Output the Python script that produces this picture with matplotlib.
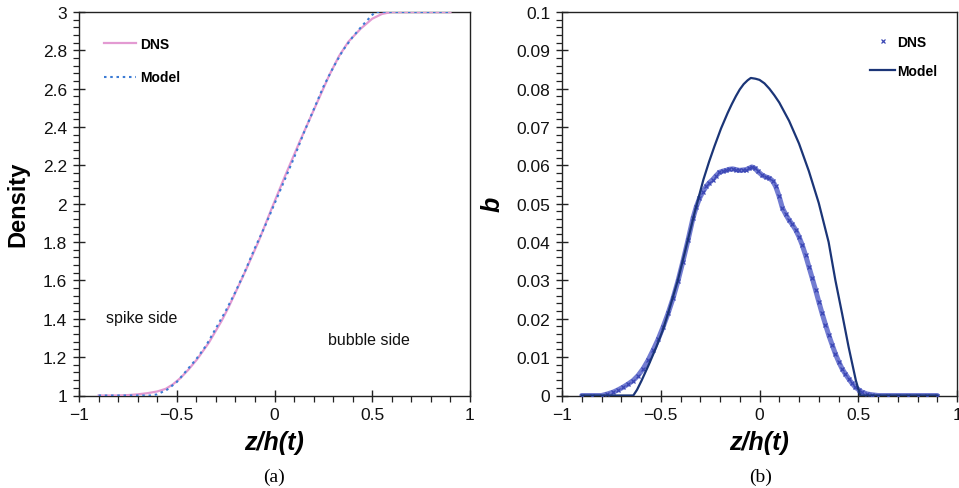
import matplotlib
matplotlib.use("Agg")
import matplotlib.pyplot as plt
from matplotlib.ticker import MultipleLocator

# ---------------- data (a): density ----------------
dens_dns_x = [-0.9, -0.8, -0.75, -0.7, -0.65, -0.6, -0.556, -0.52, -0.48, -0.44, -0.395,
              -0.336, -0.27, -0.235, -0.159, -0.083, -0.015, 0.052, 0.128, 0.204, 0.28,
              0.33, 0.378, 0.441, 0.5, 0.55, 0.6, 0.9]
dens_dns_y = [1.0, 1.0, 1.002, 1.006, 1.012, 1.021, 1.035, 1.058, 1.092, 1.135, 1.19,
              1.275, 1.39, 1.46, 1.626, 1.80, 1.974, 2.14, 2.322, 2.496, 2.67,
              2.77, 2.845, 2.913, 2.965, 2.99, 3.0, 3.0]

dens_mod_x = [-0.9, -0.635, -0.6, -0.55, -0.5, -0.45, -0.4, -0.35, -0.3, -0.25, -0.2, -0.15,
              -0.1, -0.05, 0.0, 0.05, 0.1, 0.15, 0.2, 0.25, 0.3, 0.35, 0.4, 0.45, 0.5,
              0.517, 0.9]
dens_mod_y = [1.0, 1.0, 1.006, 1.03, 1.07, 1.13, 1.19, 1.26, 1.35, 1.44, 1.54, 1.65,
              1.77, 1.88, 2.0, 2.12, 2.24, 2.37, 2.49, 2.61, 2.71, 2.8, 2.87, 2.93, 2.985,
              3.0, 3.0]

# ---------------- data (b): b ----------------
b_dns_x = [-0.9, -0.85, -0.8, -0.77, -0.74, -0.715, -0.69, -0.665, -0.64, -0.615, -0.589,
           -0.564, -0.539, -0.513, -0.488, -0.463, -0.438, -0.413, -0.388, -0.362,
           -0.337, -0.32, -0.304, -0.287, -0.27, -0.254, -0.237, -0.22, -0.203, -0.186,
           -0.169, -0.152, -0.136, -0.119, -0.102, -0.085, -0.069, -0.054, -0.039,
           -0.025, -0.01, 0.015, 0.032, 0.049, 0.066, 0.082, 0.099, 0.116, 0.133, 0.149,
           0.166, 0.183, 0.2, 0.216, 0.233, 0.25, 0.267, 0.284, 0.3, 0.317, 0.334,
           0.351, 0.368, 0.384, 0.401, 0.418, 0.435, 0.451, 0.468, 0.485, 0.502, 0.518,
           0.545, 0.569, 0.6, 0.65, 0.7, 0.75, 0.8, 0.85, 0.9]
b_dns_y = [0.0, 0.0, 0.0, 0.0004, 0.0009, 0.0015, 0.0022, 0.003, 0.0039, 0.0052, 0.007,
           0.0092, 0.0118, 0.0147, 0.0179, 0.0214, 0.0253, 0.0298, 0.0349, 0.0405,
           0.0462, 0.0492, 0.0514, 0.0531, 0.0545, 0.0555, 0.0563, 0.0573, 0.0582, 0.0585,
           0.0587, 0.0590, 0.0591, 0.0589, 0.0587, 0.0588, 0.0589, 0.0592, 0.0596,
           0.0593, 0.0585, 0.0574, 0.0570, 0.0567, 0.0560, 0.0545, 0.0520, 0.0489, 0.0472,
           0.0458, 0.0446, 0.0432, 0.0414, 0.0393, 0.0366, 0.0336, 0.0306, 0.0275, 0.0245,
           0.0214, 0.0185, 0.0157, 0.0132, 0.0109, 0.0088, 0.007, 0.0056, 0.0044, 0.0032,
           0.0022, 0.0015, 0.0009, 0.0004, 0.0002, 0.0, 0.0, 0.0, 0.0, 0.0, 0.0, 0.0]

b_mod_x = [-0.9, -0.639, -0.62, -0.597, -0.56, -0.522, -0.49, -0.463, -0.413, -0.371,
           -0.329, -0.284, -0.255, -0.228, -0.195, -0.161, -0.14, -0.119, -0.1, -0.08,
           -0.06, -0.044, -0.02, 0.0, 0.025, 0.05, 0.075, 0.1, 0.15, 0.2, 0.25, 0.3,
           0.35, 0.384, 0.418, 0.451, 0.488, 0.51, 0.9]
b_mod_y = [0.0, 0.0, 0.0015, 0.0039, 0.0081, 0.0127, 0.0170, 0.0214, 0.0301, 0.0388,
           0.0476, 0.0563, 0.0610, 0.0650, 0.0696, 0.0737, 0.0760, 0.0781, 0.0798, 0.0812,
           0.0822, 0.0828, 0.0826, 0.0823, 0.0814, 0.0800, 0.0783, 0.0764, 0.0716, 0.0657,
           0.0585, 0.0502, 0.0400, 0.0301, 0.0214, 0.0127, 0.0039, 0.0, 0.0]

x_ticks = [-1, -0.5, 0, 0.5, 1]
x_ticklabels = ["\u22121", "\u22120.5", "0", "0.5", "1"]
left_yticks = [1, 1.2, 1.4, 1.6, 1.8, 2, 2.2, 2.4, 2.6, 2.8, 3]
left_yticklabels = ["1", "1.2", "1.4", "1.6", "1.8", "2", "2.2", "2.4", "2.6", "2.8", "3"]
right_yticks = [0, 0.01, 0.02, 0.03, 0.04, 0.05, 0.06, 0.07, 0.08, 0.09, 0.1]
right_yticklabels = ["0", "0.01", "0.02", "0.03", "0.04", "0.05", "0.06", "0.07", "0.08", "0.09", "0.1"]

# ---------------- style ----------------
plt.rcParams['font.family'] = ['Liberation Sans', 'DejaVu Sans']
TICK_FS = 12.5
PINK = "#e39ad2"
DOTBLUE = "#3b7bd4"
NAVY = "#1b3577"
DNSBLUE = "#4f5bc6"

fig = plt.figure(figsize=(9.59, 4.89), dpi=100)
H = 489.0
W = 959.0
axb_bottom = (H - 396.5) / H
ax_h = (396.5 - 13) / H
ax1 = fig.add_axes([79 / W, axb_bottom, (470 - 79) / W, ax_h])
ax2 = fig.add_axes([562 / W, axb_bottom, (957 - 562) / W, ax_h])


def style_axes(ax):
    for s in ax.spines.values():
        s.set_linewidth(1.0)
        s.set_color("#222222")
    ax.tick_params(which='major', direction='inout', length=9, width=1.0,
                   labelsize=TICK_FS, pad=4, colors="#222222", labelcolor="#111111")
    ax.tick_params(which='minor', direction='out', length=4, width=0.9, colors="#222222")
    ax.tick_params(top=False, right=False, which='both')
    ax.xaxis.set_minor_locator(MultipleLocator(0.1))


# ---- panel (a)
ax1.plot(dens_dns_x, dens_dns_y, color=PINK, lw=1.6, label="DNS", zorder=3)
ax1.plot(dens_mod_x, dens_mod_y, color=DOTBLUE, lw=1.5, ls=(0, (1.2, 1.8)), label="Model", zorder=4)
ax1.set_xlim(-1, 1)
ax1.set_ylim(1, 3)
ax1.set_xticks(x_ticks)
ax1.set_xticklabels(x_ticklabels)
ax1.set_yticks(left_yticks)
ax1.set_yticklabels(left_yticklabels)
ax1.yaxis.set_minor_locator(MultipleLocator(0.04))
style_axes(ax1)
ax1.set_ylabel("Density", fontsize=17, fontweight='bold')
ax1.yaxis.label.set_va('center')
ax1.yaxis.set_label_coords(-0.156, 0.5)
ax1.set_xlabel("z/h(t)", fontsize=18, fontweight='bold', fontstyle='italic')
ax1.xaxis.label.set_va('center')
ax1.xaxis.set_label_coords(0.5, -0.121)
ax1.text(-0.862, 1.405, "spike side", fontsize=11.5, ha='left', va='center', color="#111111")
ax1.text(0.274, 1.29, "bubble side", fontsize=11.5, ha='left', va='center', color="#111111")
leg1 = ax1.legend(loc='upper left', bbox_to_anchor=(0.064, 0.935), frameon=False,
                  borderpad=0, borderaxespad=0, handlelength=2.3, handletextpad=0.3,
                  labelspacing=1.4, prop={'weight': 'bold', 'size': 10})

# ---- panel (b)
ax2.plot(b_dns_x, b_dns_y, color=DNSBLUE, lw=3.6, alpha=0.8, solid_capstyle='round', zorder=3)
ax2.plot(b_dns_x, b_dns_y, ls='none', marker='x', ms=3, mew=0.9, color="#3a46b4",
         label="DNS", zorder=4)
ax2.plot(b_mod_x, b_mod_y, color=NAVY, lw=1.6, label="Model", zorder=5)
ax2.set_xlim(-1, 1)
ax2.set_ylim(0, 0.1)
ax2.set_xticks(x_ticks)
ax2.set_xticklabels(x_ticklabels)
ax2.set_yticks(right_yticks)
ax2.set_yticklabels(right_yticklabels)
ax2.yaxis.set_minor_locator(MultipleLocator(0.002))
style_axes(ax2)
ax2.set_ylabel("b", fontsize=18, fontweight='bold', fontstyle='italic')
ax2.yaxis.label.set_va('center')
ax2.yaxis.set_label_coords(-0.177, 0.5)
ax2.set_xlabel("z/h(t)", fontsize=18, fontweight='bold', fontstyle='italic')
ax2.xaxis.label.set_va('center')
ax2.xaxis.set_label_coords(0.5, -0.121)
leg2 = ax2.legend(loc='upper left', bbox_to_anchor=(0.78, 0.94), frameon=False,
                  borderpad=0, borderaxespad=0, handlelength=1.8, handletextpad=0.15,
                  labelspacing=1.1, prop={'weight': 'bold', 'size': 10})

fig.text(274.5 / W, 1 - 477 / H, "(a)", fontsize=14, ha='center', va='center',
         family=['Liberation Serif', 'DejaVu Serif'])
fig.text(761 / W, 1 - 477 / H, "(b)", fontsize=14, ha='center', va='center',
         family=['Liberation Serif', 'DejaVu Serif'])

fig.savefig("out.png", dpi=100)
